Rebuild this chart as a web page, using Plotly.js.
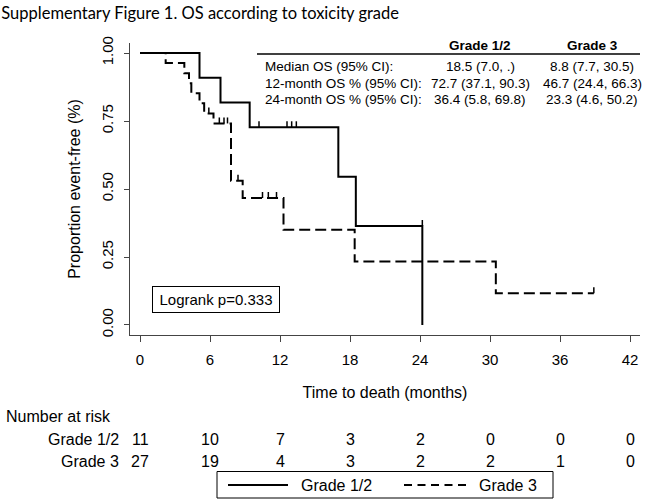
<!DOCTYPE html>
<html>
<head>
<meta charset="utf-8">
<script src="https://cdn.plot.ly/plotly-3.0.1.min.js"></script>
<style>html,body{margin:0;padding:0;background:#fff;}#chart{width:650px;height:503px;}</style>
</head>
<body>
<div id="chart"></div>
<script>
// ---- Data ----
// Kaplan-Meier step points (time in months, survival proportion)
const g12Times = [0, 5.1, 6.9, 9.4, 17.0, 18.5, 24.2];
const g12Surv  = [1, 0.909, 0.818, 0.727, 0.545, 0.364, 0];
const g12CensorTimes = [10.2, 12.6, 13.0, 13.4, 24.2];
const g12CensorSurv  = [0.727, 0.727, 0.727, 0.727, 0.364];

const g3Times = [0, 2.2, 3.8, 4.2, 4.4, 5.1, 5.5, 6.3, 7.8, 8.8, 12.3, 18.4, 30.5, 38.9];
const g3Surv  = [1, 0.963, 0.926, 0.889, 0.852, 0.815, 0.778, 0.741, 0.53, 0.467, 0.350, 0.233, 0.117, 0.117];
const g3CensorTimes = [5.9, 6.8, 7.2, 7.5, 8.4, 10.5, 11.0, 11.7, 38.9];
const g3CensorSurv  = [0.778, 0.741, 0.741, 0.741, 0.53, 0.467, 0.467, 0.467, 0.117];

// Number at risk
const riskTimes = [0, 6, 12, 18, 24, 30, 36, 42];
const riskG12 = [11, 10, 7, 3, 2, 0, 0, 0];
const riskG3  = [27, 19, 4, 3, 2, 2, 1, 0];

// Axis ticks
const xTicks = [0, 6, 12, 18, 24, 30, 36, 42];
const yTicks = [0, 0.25, 0.5, 0.75, 1];
const yTickText = ["0.00", "0.25", "0.50", "0.75", "1.00"];

// Summary table
const statRows = ["Median OS (95% CI):", "12-month OS % (95% CI):", "24-month OS % (95% CI):"];
const statG12 = ["18.5 (7.0, .)", "72.7 (37.1, 90.3)", "36.4 (5.8, 69.8)"];
const statG3  = ["8.8 (7.7, 30.5)", "46.7 (24.4, 66.3)", "23.3 (4.6, 50.2)"];
const groupNames = ["Grade 1/2", "Grade 3"];
const logrankText = "Logrank p=0.333";

// ---- Layout helpers (pixel -> paper) ----
const L = 130, R = 640, T = 43, B = 335;
const px = x => (x - L) / (R - L);
const py = y => (B - y) / (B - T);
const FONT = "Liberation Sans, Arial, sans-serif";
const tickH = 0.022;
const DASH = '11px,5px';

function censorSegments(times, surv) {
  const xs = [], ys = [];
  times.forEach((t, i) => { xs.push(t, t, null); ys.push(surv[i], surv[i] + tickH, null); });
  return {x: xs, y: ys};
}
const c12 = censorSegments(g12CensorTimes, g12CensorSurv);
const c3 = censorSegments(g3CensorTimes, g3CensorSurv);

const traces = [
  {x: g12Times, y: g12Surv, mode: 'lines', name: groupNames[0], line: {shape: 'hv', color: '#000', width: 2}},
  {x: g3Times, y: g3Surv, mode: 'lines', name: groupNames[1], line: {shape: 'hv', color: '#000', width: 2, dash: DASH}},
  {x: c12.x, y: c12.y, mode: 'lines', showlegend: false, hoverinfo: 'skip', line: {color: '#000', width: 1.5}},
  {x: c3.x, y: c3.y, mode: 'lines', showlegend: false, hoverinfo: 'skip', line: {color: '#000', width: 1.5}}
];

const SF = 13.5;
const ann = [];
const txt = (x, y, text, anchor, size, xref) => ann.push({xref: xref || 'paper', yref: 'paper', x: x, y: y, text: text, showarrow: false,
  xanchor: anchor, yanchor: 'middle', font: {family: FONT, size: size, color: '#000'}});
// Summary table
const rowY = [66, 83, 99];
txt(px(480), py(45), '<b>' + groupNames[0] + '</b>', 'center', SF);
txt(px(592), py(45), '<b>' + groupNames[1] + '</b>', 'center', SF);
statRows.forEach((r, i) => {
  txt(px(263), py(rowY[i]), r, 'left', SF);
  txt(px(480), py(rowY[i]), statG12[i], 'center', SF);
  txt(px(592), py(rowY[i]), statG3[i], 'center', SF);
});
// Logrank box
ann.push({xref: 'paper', yref: 'paper', x: px(215.5), y: py(299), text: logrankText, showarrow: false, xanchor: 'center', yanchor: 'middle',
  bordercolor: '#000', borderwidth: 1, borderpad: 4, width: 118, font: {family: FONT, size: 15, color: '#000'}, bgcolor: '#fff'});
// Number at risk
txt(px(4), py(416), 'Number at risk', 'left', 16);
txt(px(121), py(439), groupNames[0], 'right', 16);
txt(px(121), py(461), groupNames[1], 'right', 16);
riskTimes.forEach((t, i) => {
  txt(t, py(439), String(riskG12[i]), 'center', 16, 'x');
  txt(t, py(461), String(riskG3[i]), 'center', 16, 'x');
});
// Legend (drawn as a key box below the risk table)
const legY = 485;
txt(px(299), py(legY), groupNames[0], 'left', 16);
txt(px(477), py(legY), groupNames[1], 'left', 16);

const shapes = [
  {type: 'line', xref: 'paper', yref: 'paper', x0: px(257), x1: 1, y0: py(54), y1: py(54), line: {color: '#000', width: 1.5}},
  {type: 'rect', xref: 'paper', yref: 'paper', x0: px(217), x1: px(553), y0: py(471.5), y1: py(498), line: {color: '#000', width: 1}},
  {type: 'line', xref: 'paper', yref: 'paper', x0: px(228), x1: px(288), y0: py(legY), y1: py(legY), line: {color: '#000', width: 2}},
  {type: 'line', xref: 'paper', yref: 'paper', x0: px(404), x1: px(466), y0: py(legY), y1: py(legY), line: {color: '#000', width: 2, dash: '8px,5.5px'}}
];

const layout = {
  width: 650, height: 503,
  margin: {l: L, r: 650 - R, t: T, b: 503 - B, pad: 0, autoexpand: false},
  paper_bgcolor: '#fff', plot_bgcolor: '#fff',
  font: {family: FONT, color: '#000', size: 15},
  title: {text: 'Supplementary Figure 1. OS according to toxicity grade', x: 0.002, xanchor: 'left', xref: 'container',
    y: 1 - 13 / 503, yanchor: 'middle', yref: 'container', font: {family: 'Lato, sans-serif', size: 16.5, color: '#000'}},
  xaxis: {range: [-0.857, 42.857], tickvals: xTicks, ticktext: xTicks.map(String), showgrid: false, zeroline: false,
    showline: true, linecolor: '#444', linewidth: 1, ticks: 'outside', ticklen: 6, tickcolor: '#444', tickwidth: 1,
    ticklabelstandoff: 5,
    tickfont: {size: 15}, title: {text: 'Time to death (months)', font: {size: 16}, standoff: 19}, automargin: false},
  yaxis: {range: [-0.0368, 1.0368], tickvals: yTicks, ticktext: yTickText, tickangle: -90, showgrid: false, zeroline: false,
    showline: true, linecolor: '#444', linewidth: 1, ticks: 'outside', ticklen: 5, tickcolor: '#444', tickwidth: 1,
    ticklabelstandoff: 5,
    tickfont: {size: 15}, title: {text: 'Proportion event-free (%)', font: {size: 16}, standoff: 14}, automargin: false},
  showlegend: false,
  shapes: shapes,
  annotations: ann
};

Plotly.newPlot('chart', traces, layout, {staticPlot: true, displayModeBar: false});
</script>
</body>
</html>
